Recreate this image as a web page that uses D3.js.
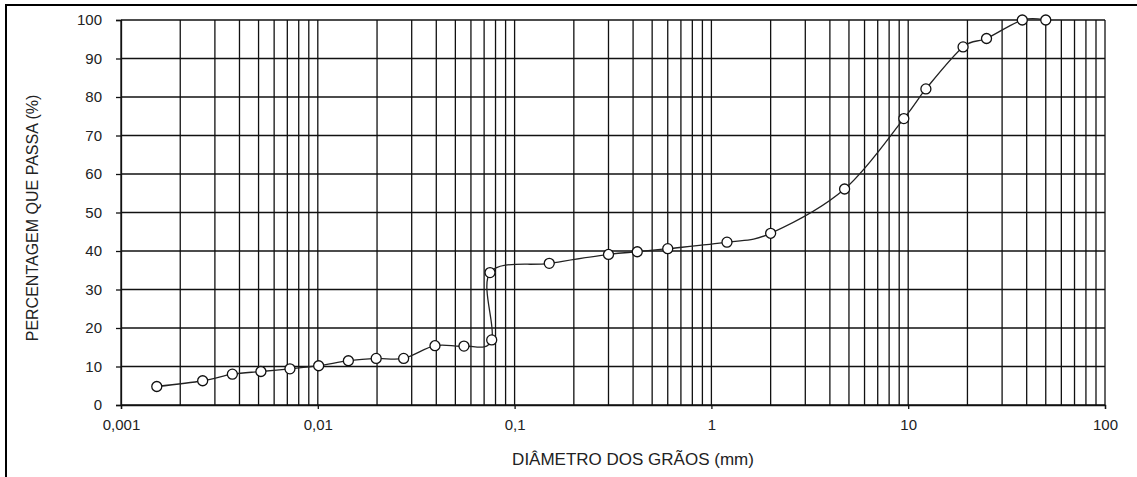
<!DOCTYPE html>
<html>
<head>
<meta charset="utf-8">
<script src="https://cdn.jsdelivr.net/npm/d3@7"></script>
<style>
  body { margin: 0; background: #fff; }
  svg { display: block; font-family: "Liberation Sans", Arial, sans-serif; }
</style>
</head>
<body>
<figure id="granulo" style="margin:0"></figure>
<script>
// grain diameter (mm) and percent passing
const diameters = [0.00152, 0.0026, 0.00368, 0.00514, 0.00722, 0.0101, 0.0143, 0.0198, 0.0273, 0.0394, 0.0553, 0.0765,
  0.075, 0.15, 0.3, 0.42, 0.6, 1.2, 2.0, 4.75, 9.5, 12.3, 19, 25, 38, 50];
const passing = [4.8, 6.3, 8.0, 8.7, 9.4, 10.2, 11.5, 12.1, 12.1, 15.4, 15.3, 16.9,
  34.4, 36.8, 39.1, 39.8, 40.6, 42.3, 44.6, 56.1, 74.4, 82.1, 93.0, 95.2, 100, 100];

const xDecades = [0.001, 0.01, 0.1, 1, 10, 100];
const xTickLabels = ["0,001", "0,01", "0,1", "1", "10", "100"];
const yTicks = [0, 10, 20, 30, 40, 50, 60, 70, 80, 90, 100];

const xTitle = "DIÂMETRO DOS GRÃOS (mm)";
const yTitle = "PERCENTAGEM QUE PASSA (%)";

const W = 1137, H = 477;
const mLeft = 121, mRight = 1105, mTop = 20, mBottom = 405;

const svg = d3.select("figure#granulo")
  .append("svg")
  .attr("width", W)
  .attr("height", H);

// outer frame (only top and left edges show in the crop)
svg.append("path")
  .attr("d", "M6," + H + " V5 H" + W)
  .attr("fill", "none")
  .attr("stroke", "#000")
  .attr("stroke-width", 2);

const x = d3.scaleLog().domain([0.001, 100]).range([mLeft, mRight]);
const y = d3.scaleLinear().domain([0, 100]).range([mBottom, mTop]);

const gridColor = "#111";

// vertical grid, 1..9 in each decade
const grid = svg.append("g");
grid.selectAll("line.v")
  .data(x.ticks())
  .enter()
  .append("line")
  .attr("x1", d => x(d)).attr("x2", d => x(d))
  .attr("y1", mTop).attr("y2", mBottom)
  .attr("stroke", gridColor)
  .attr("stroke-width", 1.3);

// horizontal grid
grid.selectAll("line.h")
  .data(yTicks)
  .enter()
  .append("line")
  .attr("x1", mLeft).attr("x2", mRight)
  .attr("y1", d => y(d)).attr("y2", d => y(d))
  .attr("stroke", gridColor)
  .attr("stroke-width", 1.3);

// Y axis
const yAxis = svg.append("g")
  .attr("transform", "translate(" + mLeft + ",0)")
  .call(d3.axisLeft(y).tickValues(yTicks).tickSize(5).tickPadding(14).tickFormat(d3.format("d")));

// X axis
const xAxis = svg.append("g")
  .attr("transform", "translate(0," + mBottom + ")")
  .call(d3.axisBottom(x).tickValues(xDecades).tickSize(4).tickPadding(10)
    .tickFormat((d, i) => xTickLabels[i]));

[yAxis, xAxis].forEach(a => {
  a.select(".domain").attr("stroke", gridColor).attr("stroke-width", 1.3);
  a.selectAll(".tick line").attr("stroke", gridColor).attr("stroke-width", 1.3);
  a.selectAll("text").attr("font-size", 15).attr("fill", "#222")
    .attr("font-family", "'Liberation Sans', Arial, sans-serif");
});

// axis titles
svg.append("text")
  .attr("x", 633).attr("y", 465)
  .attr("text-anchor", "middle")
  .attr("font-size", 17)
  .attr("fill", "#222")
  .text(xTitle);

svg.append("text")
  .attr("transform", "translate(38,218) rotate(-90)")
  .attr("text-anchor", "middle")
  .attr("font-size", 16)
  .attr("fill", "#222")
  .text(yTitle);

// curve
const pts = diameters.map((d, i) => ({ d: d, p: passing[i] }));

svg.append("path")
  .datum(pts)
  .attr("fill", "none")
  .attr("stroke", "#222")
  .attr("stroke-width", 1.3)
  .attr("d", d3.line()
    .x(d => x(d.d))
    .y(d => y(d.p))
    .curve(d3.curveCardinal.tension(0)));

// markers
svg.append("g")
  .selectAll("circle")
  .data(pts)
  .enter()
  .append("circle")
  .attr("cx", d => x(d.d))
  .attr("cy", d => y(d.p))
  .attr("r", 5)
  .attr("fill", "#fff")
  .attr("stroke", "#111")
  .attr("stroke-width", 1.3);
</script>
</body>
</html>
